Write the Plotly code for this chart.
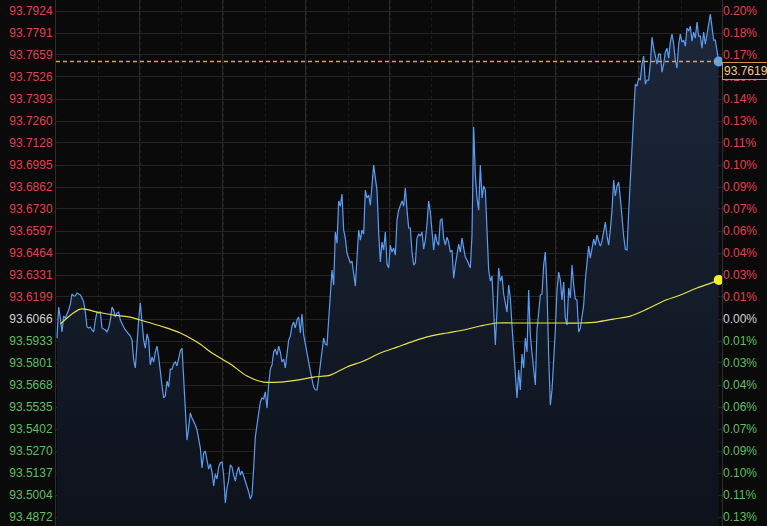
import numpy as np
import plotly.graph_objects as go

# ---------------- data ----------------
ref_price = 93.6066
last_price = 93.7619

prices = [
    93.5951, 93.6138, 93.6072, 93.5988, 93.6084, 93.6072, 93.6096, 93.6120, 93.6156, 93.6217,
    93.6205, 93.6205, 93.6223, 93.6217, 93.6211, 93.6193, 93.6169, 93.6108, 93.6018, 93.6012,
    93.6018, 93.6000, 93.5988, 93.6060, 93.6108, 93.6102, 93.6108, 93.6012, 93.6006, 93.6000,
    93.5988, 93.6012, 93.6060, 93.6138, 93.6120, 93.6078, 93.6102, 93.6108, 93.6060, 93.6036,
    93.6018, 93.6000, 93.5988, 93.5976, 93.5963, 93.5939, 93.5819, 93.5771, 93.5939, 93.6060,
    93.6162, 93.6042, 93.5939, 93.5891, 93.5976, 93.5939, 93.5789, 93.5837, 93.5807, 93.5867,
    93.5903, 93.5837, 93.5734, 93.5662, 93.5590, 93.5602, 93.5692, 93.5656, 93.5764, 93.5764,
    93.5795, 93.5807, 93.5783, 93.5837, 93.5873, 93.5891, 93.5722, 93.5517, 93.5336, 93.5409,
    93.5499, 93.5469, 93.5451, 93.5427, 93.5397, 93.5336, 93.5288, 93.5168, 93.5258, 93.5270,
    93.5222, 93.5161, 93.5192, 93.5143, 93.5059, 93.5131, 93.5101, 93.5174, 93.5198, 93.5204,
    93.5125, 93.4957, 93.5047, 93.5095, 93.5186, 93.5174, 93.5125, 93.5089, 93.5143, 93.5174,
    93.5125, 93.5149, 93.5119, 93.5089, 93.5047, 93.5023, 93.4981, 93.5005, 93.5168, 93.5354,
    93.5427, 93.5511, 93.5566, 93.5590, 93.5584, 93.5626, 93.5529, 93.5674, 93.5764, 93.5789,
    93.5867, 93.5885, 93.5849, 93.5903, 93.5867, 93.5807, 93.5825, 93.5771, 93.5855, 93.5939,
    93.5963, 93.6024, 93.6048, 93.6012, 93.6060, 93.6078, 93.5982, 93.6096, 93.5970, 93.5909,
    93.5855, 93.5807, 93.5752, 93.5704, 93.5656, 93.5638, 93.5638, 93.5710, 93.5789, 93.5879,
    93.5951, 93.5915, 93.5909, 93.6060,
    93.6205, 93.6361, 93.6271, 93.6591, 93.6524, 93.6778, 93.6747, 93.6820, 93.6603, 93.6554,
    93.6464, 93.6434, 93.6404, 93.6416, 93.6349, 93.6265, 93.6434, 93.6603, 93.6542, 93.6603,
    93.6579, 93.6844, 93.6796, 93.6814, 93.6753, 93.6904, 93.6995, 93.6916, 93.6844, 93.6591,
    93.6410, 93.6530, 93.6482, 93.6591, 93.6398, 93.6374, 93.6512, 93.6470, 93.6494, 93.6452,
    93.6663, 93.6723, 93.6747, 93.6778, 93.6747, 93.6856, 93.6723, 93.6615, 93.6615, 93.6470,
    93.6392, 93.6404, 93.6554, 93.6579, 93.6566, 93.6591, 93.6488, 93.6542, 93.6639, 93.6778,
    93.6711, 93.6585, 93.6482, 93.6579, 93.6530, 93.6512, 93.6663, 93.6669, 93.6554, 93.6512,
    93.6560, 93.6530, 93.6470, 93.6482, 93.6313, 93.6392, 93.6470, 93.6518, 93.6470, 93.6554,
    93.6494, 93.6440, 93.6422, 93.6398, 93.6374, 93.6573, 93.7224, 93.6934, 93.6796, 93.6723,
    93.6995, 93.6796, 93.6868, 93.6844, 93.6542, 93.6361, 93.6295, 93.6325, 93.6120, 93.5909,
    93.6120, 93.6374, 93.6295, 93.6325, 93.6217, 93.6162, 93.6108, 93.6271, 93.6193, 93.6024,
    93.5861, 93.5746, 93.5590, 93.5758, 93.5638, 93.5855, 93.5771, 93.5951, 93.5867, 93.6241,
    93.5970, 93.5861, 93.5758, 93.5668, 93.6000, 93.6096, 93.6211, 93.6217, 93.6392, 93.6470,
    93.6241, 93.5849, 93.5547, 93.5638, 93.5807, 93.6000, 93.6241, 93.6349, 93.6301, 93.6181,
    93.6289, 93.6072, 93.6030, 93.6253, 93.6193, 93.6392, 93.6271, 93.6187, 93.6181, 93.5988,
    93.6012, 93.6090, 93.6150, 93.6301, 93.6410, 93.6506, 93.6434, 93.6482, 93.6548, 93.6512,
    93.6573, 93.6536, 93.6506, 93.6536, 93.6591, 93.6651, 93.6566, 93.6512, 93.6603, 93.6723,
    93.6904, 93.6808, 93.6868, 93.6892, 93.6796, 93.6663, 93.6566, 93.6488, 93.6482, 93.6711,
    93.6904, 93.7109, 93.7278, 93.7483, 93.7471, 93.7519, 93.7507, 93.7604, 93.7652, 93.7483,
    93.7507, 93.7507, 93.7604, 93.7766, 93.7700, 93.7652, 93.7604, 93.7664, 93.7664, 93.7555,
    93.7604, 93.7676, 93.7700, 93.7640, 93.7736, 93.7785, 93.7724, 93.7628, 93.7580, 93.7724,
    93.7785, 93.7736, 93.7748, 93.7712, 93.7821, 93.7803, 93.7833, 93.7742, 93.7797, 93.7760,
    93.7857, 93.7772, 93.7772, 93.7700, 93.7797, 93.7724, 93.7797, 93.7845, 93.7905, 93.7809,
    93.7748, 93.7748, 93.7688, 93.7619,
]

ma_values = [
    93.6036, 93.6126, 93.6108, 93.6090, 93.6078, 93.6048, 93.6018, 93.5982, 93.5927, 93.5855,
    93.5795, 93.5722, 93.5686, 93.5686, 93.5698, 93.5716, 93.5728, 93.5777, 93.5813, 93.5861,
    93.5897, 93.5933, 93.5963, 93.5982, 93.6000, 93.6024, 93.6042, 93.6042, 93.6042, 93.6042,
    93.6042, 93.6042, 93.6048, 93.6066, 93.6084, 93.6126, 93.6175, 93.6211, 93.6253, 93.6289,
    93.6301,
]
ma_index = [2] + list(range(14, 395, 10)) + [397]

left_labels = [
    "93.7924", "93.7791", "93.7659", "93.7526", "93.7393", "93.7260", "93.7128", "93.6995",
    "93.6862", "93.6730", "93.6597", "93.6464", "93.6331", "93.6199", "93.6066", "93.5933",
    "93.5801", "93.5668", "93.5535", "93.5402", "93.5270", "93.5137", "93.5004", "93.4872",
]
right_labels = [
    "0.20%", "0.18%", "0.17%", "0.16%", "0.14%", "0.13%", "0.11%", "0.10%",
    "0.09%", "0.07%", "0.06%", "0.04%", "0.03%", "0.01%", "0.00%", "0.01%",
    "0.03%", "0.04%", "0.06%", "0.07%", "0.09%", "0.10%", "0.11%", "0.13%",
]

# ---------------- styling ----------------
BG = "#0a0a0a"
RED = "#e0404f"
GREEN = "#5dbf5f"
NEUTRAL = "#d0d0d0"
GRID = "#242424"

tick_vals = [float(v) for v in left_labels]


def colour_for(v):
    if abs(v - ref_price) < 1e-6:
        return NEUTRAL
    return RED if v > ref_price else GREEN


left_text = [f'<span style="color:{colour_for(v)}">{t}</span>' for v, t in zip(tick_vals, left_labels)]
right_text = [f'<span style="color:{colour_for(v)}">{t}</span>' for v, t in zip(tick_vals, right_labels)]

px_per_val = (tick_vals[0] - tick_vals[-1]) / 506.0
y_lo = tick_vals[-1] - 9 * px_per_val
y_hi = tick_vals[0] + 11 * px_per_val

idx = np.arange(len(prices))

fig = go.Figure()
fig.add_trace(go.Scatter(
    x=idx, y=prices, mode="lines",
    line=dict(color="#5b9cf2", width=1.2),
    fill="tozeroy",
    fillgradient=dict(type="vertical",
                      colorscale=[[0, "#0d121b"], [1, "#1d283b"]],
                      start=y_lo, stop=y_hi),
    hoverinfo="skip", showlegend=False,
))
fig.add_trace(go.Scatter(
    x=ma_index, y=ma_values, mode="lines",
    line=dict(color="#e6e24a", width=1.2, shape="spline", smoothing=0.8),
    hoverinfo="skip", showlegend=False,
))
fig.add_trace(go.Scatter(
    x=[idx[-1]], y=[prices[-1]], mode="markers",
    marker=dict(color="#5ea2f2", size=10), hoverinfo="skip", showlegend=False,
))
fig.add_trace(go.Scatter(
    x=[ma_index[-1]], y=[ma_values[-1]], mode="markers",
    marker=dict(color="#f2ee2a", size=10), hoverinfo="skip", showlegend=False,
))
# invisible trace for right axis
fig.add_trace(go.Scatter(
    x=[idx[0]], y=[ref_price], yaxis="y2", mode="markers",
    marker=dict(opacity=0), hoverinfo="skip", showlegend=False,
))

fig.add_shape(type="line", xref="paper", x0=0, x1=1, yref="y", y0=last_price, y1=last_price,
              layer="above",
              line=dict(color="#ff9433", width=1.5, dash="4px,3px"))

fig.add_annotation(
    text=f"{last_price:.4f}", xref="paper", x=1, xanchor="left",
    yref="y", y=last_price, yanchor="top", showarrow=False,
    bgcolor=BG, bordercolor="#d8904a", borderwidth=1, borderpad=1,
    font=dict(color="#f2c890", size=12, family="Liberation Sans, Arial"),
)

font = dict(family="Liberation Sans, Arial, sans-serif", size=12)

fig.update_layout(
    width=767, height=526,
    margin=dict(l=56, r=45, t=0, b=0),
    paper_bgcolor=BG, plot_bgcolor=BG,
    font=font,
    hovermode=False,
    xaxis=dict(
        range=[-0.6, 399], showticklabels=False, ticks="",
        tick0=-0.6, dtick=49.95,
        showgrid=True, gridcolor="#2a2a2a", gridwidth=1, zeroline=False,
        minor=dict(showgrid=True, dtick=24.975, gridcolor="#1c1c1c", griddash="dot"),
        fixedrange=True,
    ),
    yaxis=dict(
        range=[y_lo, y_hi], tickmode="array", tickvals=tick_vals, ticktext=left_text,
        showgrid=True, gridcolor=GRID, gridwidth=1, zeroline=False,
        showline=True, linecolor="#2e2e2e", mirror=True, ticks="",
        tickfont=font, fixedrange=True,
    ),
    yaxis2=dict(
        range=[y_lo, y_hi], overlaying="y", side="right",
        tickmode="array", tickvals=tick_vals, ticktext=right_text,
        showgrid=False, zeroline=False, ticks="", tickfont=font, fixedrange=True,
    ),
)

fig.write_html(
    "out.html",
    config={"displayModeBar": False},
    post_script="document.body.style.margin='0';document.body.style.background='#0a0a0a';document.body.style.overflow='hidden';",
)
